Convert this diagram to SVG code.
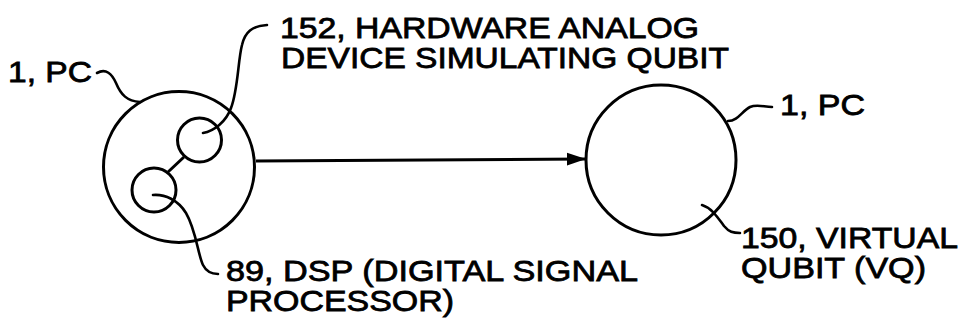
<svg xmlns="http://www.w3.org/2000/svg" width="963" height="323" viewBox="0 0 963 323">
<style>
.shape{fill:none;stroke:#000;stroke-width:3}
.lead{fill:none;stroke:#000;stroke-width:2.6;stroke-linecap:round}
.lbl{font-family:"Liberation Sans",Arial,sans-serif;font-size:30px;fill:#000;stroke:#000;stroke-width:0.8}
</style>
<defs>
<marker id="arr" markerUnits="userSpaceOnUse" markerWidth="20" markerHeight="14" refX="19" refY="7" orient="auto">
<polygon points="0,0.5 19,7 0,13.5" fill="#000"/>
</marker>
</defs>
<rect width="963" height="323" fill="#fff"/>
<g id="pc-left">
<circle class="shape" cx="179" cy="167" r="75.5"/>
</g>
<g id="hw-analog-152">
<circle class="shape" cx="199.5" cy="140" r="22"/>
</g>
<g id="dsp-89">
<circle class="shape" cx="154" cy="190" r="22"/>
</g>
<g id="pc-right">
<circle class="shape" cx="661" cy="160" r="75"/>
</g>
<g id="connectors">
<line class="shape" x1="184" y1="157" x2="168" y2="172"/>
<line class="shape" x1="256" y1="161" x2="586" y2="159" marker-end="url(#arr)"/>
</g>
<g id="leaders">
<path class="lead" d="M97,73 C106,68 112,74 116,83 C121,95 127,101 140,102"/>
<path class="lead" d="M203,133 C214,131 226,122 231,108 C238,90 238,60 242,45 C245,32 252,26 267,25"/>
<path class="lead" d="M153,195 C165,194 178,200 186,213 C196,230 198,255 203,265 C206,271 211,274 218,274"/>
<path class="lead" d="M728,121 C738,121 742,111 750,107 C757,104 764,107 772,107"/>
<path class="lead" d="M702,205 C712,208 718,218 724,226 C729,232 733,233 740,233"/>
</g>
<g id="labels">
<text class="lbl" x="8" y="82" textLength="84" lengthAdjust="spacingAndGlyphs">1, PC</text>
<text class="lbl" x="280" y="38" textLength="419" lengthAdjust="spacingAndGlyphs">152, HARDWARE ANALOG</text>
<text class="lbl" x="281" y="68" textLength="448" lengthAdjust="spacingAndGlyphs">DEVICE SIMULATING QUBIT</text>
<text class="lbl" x="780" y="115" textLength="85" lengthAdjust="spacingAndGlyphs">1, PC</text>
<text class="lbl" x="741" y="248" textLength="217" lengthAdjust="spacingAndGlyphs">150, VIRTUAL</text>
<text class="lbl" x="741" y="278" textLength="185" lengthAdjust="spacingAndGlyphs">QUBIT (VQ)</text>
<text class="lbl" x="226" y="281" textLength="412" lengthAdjust="spacingAndGlyphs">89, DSP (DIGITAL SIGNAL</text>
<text class="lbl" x="226" y="311" textLength="228" lengthAdjust="spacingAndGlyphs">PROCESSOR)</text>
</g>
</svg>
